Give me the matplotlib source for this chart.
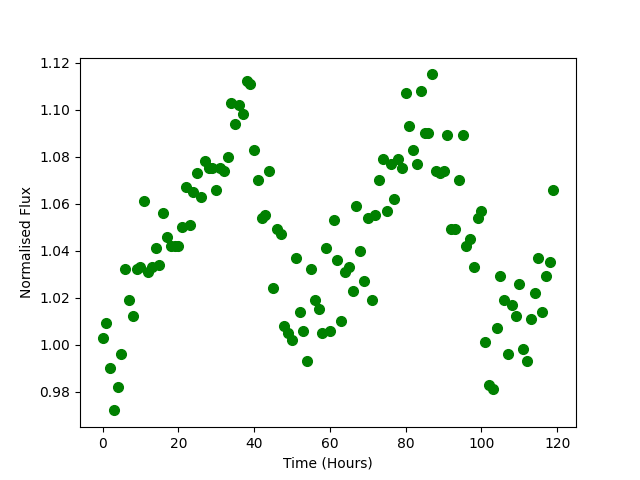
import matplotlib
matplotlib.use("Agg")
import matplotlib.pyplot as plt
import numpy as np

# Time in hours (one sample per hour)
time_hours = np.arange(120)

# Normalised flux
flux = [
    1.003, 1.009, 0.990, 0.972, 0.982, 0.996, 1.032, 1.019, 1.012, 1.032,
    1.033, 1.061, 1.031, 1.033, 1.041, 1.034, 1.056, 1.046, 1.042, 1.042,
    1.042, 1.050, 1.067, 1.051, 1.065, 1.073, 1.063, 1.078, 1.075, 1.075,
    1.066, 1.075, 1.074, 1.080, 1.103, 1.094, 1.102, 1.098, 1.112, 1.111,
    1.083, 1.070, 1.054, 1.055, 1.074, 1.024, 1.049, 1.047, 1.008, 1.005,
    1.002, 1.037, 1.014, 1.006, 0.993, 1.032, 1.019, 1.015, 1.005, 1.041,
    1.006, 1.053, 1.036, 1.010, 1.031, 1.033, 1.023, 1.059, 1.040, 1.027,
    1.054, 1.019, 1.055, 1.070, 1.079, 1.057, 1.077, 1.062, 1.079, 1.075,
    1.107, 1.093, 1.083, 1.077, 1.108, 1.090, 1.090, 1.115, 1.074, 1.073,
    1.074, 1.089, 1.049, 1.049, 1.070, 1.089, 1.042, 1.045, 1.033, 1.054,
    1.057, 1.001, 0.983, 0.981, 1.007, 1.029, 1.019, 0.996, 1.017, 1.012,
    1.026, 0.998, 0.993, 1.011, 1.022, 1.037, 1.014, 1.029, 1.035, 1.066,
]

fig, ax = plt.subplots(figsize=(6.4, 4.8), dpi=100)
ax.plot(time_hours, flux, 'o', color='green', markersize=7)
ax.set_xlabel("Time (Hours)")
ax.set_ylabel("Normalised Flux")

plt.savefig("out.png")
